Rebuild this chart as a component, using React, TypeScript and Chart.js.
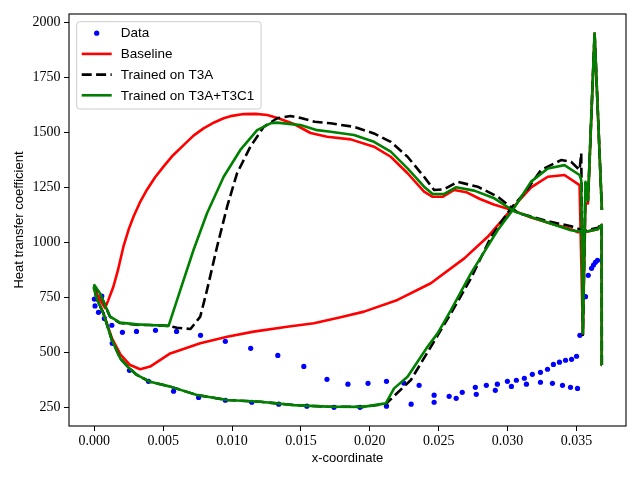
import React, { useEffect, useRef } from 'react';
import { Chart, registerables } from 'chart.js';

Chart.register(...registerables);

// ---- Measured data points ----
const dataX = [
  0.0, 0.00005, 0.00054, 0.0003, 0.00073, 0.00127, 0.0013, 0.00204, 0.00306, 0.00444,
  0.00597, 0.00771, 0.00951, 0.01135, 0.01332, 0.01521, 0.01689, 0.01841, 0.01987, 0.02121,
  0.02247, 0.02358, 0.00255, 0.00393, 0.00575, 0.00757, 0.00951, 0.01143, 0.01339, 0.01543,
  0.0174, 0.01929, 0.02121, 0.023, 0.02467, 0.02467, 0.02576, 0.02627, 0.02671, 0.02773,
  0.02766, 0.02846, 0.02911, 0.02926, 0.02999, 0.03028, 0.03064, 0.03122, 0.03137, 0.0318,
  0.03239, 0.03239, 0.0329, 0.03333, 0.03326, 0.03377, 0.03399, 0.03421, 0.03457, 0.03465,
  0.03501, 0.03508, 0.03525, 0.03566, 0.03586, 0.0361, 0.03624, 0.03638, 0.03653,
];
const dataY = [
  742, 711, 756, 682, 654, 623, 541, 591, 595, 600,
  595, 577, 550, 518, 486, 436, 377, 355, 359, 368,
  360, 350, 418, 368, 323, 295, 282, 273, 264, 255,
  250, 250, 255, 264, 273, 305, 300, 291, 318, 309,
  341, 350, 327, 355, 368, 345, 373, 382, 355, 400,
  409, 364, 423, 445, 359, 455, 350, 464, 341, 468,
  482, 336, 577, 753, 850, 882, 897, 909, 918,
];

// ---- Baseline ----
const baselineX = [
  0.03685, 0.03683, 0.03656, 0.0355, 0.03511, 0.0346, 0.0332, 0.0317, 0.0305, 0.029,
  0.028, 0.027, 0.02613, 0.02528, 0.02456, 0.02394, 0.02274, 0.02152, 0.0203, 0.01861,
  0.0169, 0.0157, 0.0145, 0.0133, 0.01255, 0.0117, 0.01084, 0.01, 0.00939, 0.0087,
  0.00793, 0.0072, 0.00648, 0.0057, 0.00502, 0.0044, 0.00381, 0.0033, 0.00284, 0.0025,
  0.00211, 0.0017, 0.00138, 0.001, 0.00078, 0.0004, 0.0, 0.0002, 0.00066, 0.00127,
  0.0019, 0.0026, 0.00333, 0.00405, 0.00551, 0.00769, 0.00964, 0.01157, 0.014, 0.01594,
  0.01788, 0.01958, 0.02201, 0.02443, 0.02686, 0.02856, 0.03, 0.0307, 0.03171, 0.03292,
  0.03413, 0.03523, 0.03547, 0.03566, 0.03584, 0.03632, 0.03685,
];
const baselineY = [
  442, 1080, 1060, 1045, 1046, 1060, 1084, 1113, 1143, 1172,
  1197, 1228, 1238, 1207, 1207, 1230, 1314, 1389, 1435, 1468,
  1480, 1497, 1538, 1565, 1579, 1584, 1583, 1575, 1564, 1545,
  1518, 1485, 1442, 1395, 1344, 1295, 1238, 1180, 1116, 1060,
  980, 870, 798, 735, 701, 740, 790, 740, 677, 565,
  490, 442, 423, 435, 495, 541, 571, 594, 616, 632,
  659, 685, 738, 814, 927, 1025, 1130, 1180, 1250, 1298,
  1306, 1260, 580, 1180, 1177, 1950, 1147,
];

// ---- Trained on T3A ----
const t3aX = [
  0.03685, 0.03683, 0.03656, 0.03559, 0.03462, 0.03292, 0.03074, 0.02929, 0.02783, 0.02637,
  0.0254, 0.02467, 0.02394, 0.02274, 0.02152, 0.0203, 0.01885, 0.01715, 0.016, 0.015,
  0.01424, 0.01327, 0.0123, 0.01133, 0.01036, 0.00964, 0.00891, 0.00818, 0.00769, 0.00698,
  0.006, 0.0054, 0.00405, 0.00309, 0.00187, 0.00114, 0.00041, 0.0, -0.00003, 0.0002,
  0.00066, 0.00127, 0.0019, 0.0025, 0.00309, 0.00405, 0.00551, 0.00745, 0.00964, 0.01206,
  0.01448, 0.01691, 0.0195, 0.02116, 0.02298, 0.02443, 0.02589, 0.02734, 0.0288, 0.03025,
  0.03122, 0.03244, 0.03389, 0.03462, 0.03523, 0.03535, 0.03547, 0.03566, 0.03584, 0.03632,
  0.03685,
];
const t3aY = [
  442, 1085, 1066, 1052, 1073, 1096, 1134, 1207, 1253, 1275,
  1241, 1238, 1298, 1389, 1457, 1495, 1525, 1541, 1548, 1565,
  1574, 1564, 1525, 1435, 1314, 1162, 980, 783, 662, 606,
  612, 620, 624, 625, 633, 662, 768, 800, 788, 740,
  677, 556, 470, 430, 397, 366, 344, 306, 283, 275,
  260, 253, 252, 265, 374, 525, 677, 836, 1025, 1155,
  1223, 1329, 1374, 1366, 1329, 1405, 580, 1270, 1190, 1950,
  1147,
];

// ---- Trained on T3A+T3C1 ----
const t3ac1X = [
  0.03685, 0.03683, 0.03656, 0.0355, 0.0346, 0.0329, 0.0305, 0.02904, 0.02758, 0.02625,
  0.0254, 0.02456, 0.02394, 0.02274, 0.02152, 0.0203, 0.01885, 0.01715, 0.01618, 0.01497,
  0.01327, 0.01279, 0.01182, 0.0106, 0.00939, 0.00818, 0.0072, 0.00624, 0.00539, 0.00405,
  0.00309, 0.00187, 0.00114, 0.00041, 0.0, -0.00003, 0.0002, 0.00066, 0.00127, 0.0019,
  0.0025, 0.00309, 0.00405, 0.00551, 0.00745, 0.00964, 0.01206, 0.01448, 0.01691, 0.0195,
  0.02116, 0.02176, 0.02274, 0.02419, 0.02492, 0.02589, 0.02734, 0.02929, 0.03038, 0.03171,
  0.03292, 0.03413, 0.03523, 0.03535, 0.03547, 0.03566, 0.03584, 0.03632, 0.03685,
];
const t3ac1Y = [
  442, 1080, 1060, 1046, 1055, 1090, 1140, 1200, 1235, 1250,
  1220, 1220, 1253, 1336, 1412, 1457, 1488, 1503, 1510, 1533,
  1544, 1541, 1510, 1420, 1298, 1132, 965, 783, 620, 624,
  627, 635, 662, 768, 806, 790, 740, 677, 556, 470,
  430, 397, 366, 344, 306, 283, 275, 260, 253, 252,
  268, 336, 389, 525, 586, 692, 859, 1056, 1147, 1276,
  1336, 1351, 1306, 1283, 586, 1275, 1192, 1950, 1147,
];

// ---- Axes ----
const xTickValues = [0, 0.005, 0.01, 0.015, 0.02, 0.025, 0.03, 0.035];
const xTickLabels = ['0.000', '0.005', '0.010', '0.015', '0.020', '0.025', '0.030', '0.035'];
const yTickValues = [250, 500, 750, 1000, 1250, 1500, 1750, 2000];
const yTickLabels = ['250', '500', '750', '1000', '1250', '1500', '1750', '2000'];
const legendLabels = ['Data', 'Baseline', 'Trained on T3A', 'Trained on T3A+T3C1'];
const xAxisTitle = 'x-coordinate';
const yAxisTitle = 'Heat transfer coefficient';

const toPoints = (xs: number[], ys: number[]) => xs.map((x, i) => ({ x, y: ys[i] }));

const SANS = '"Liberation Sans", Arial, sans-serif';
const SERIF = '"Liberation Serif", "Times New Roman", serif';

const framePlugin = {
  id: 'frame',
  afterDraw(chart: any) {
    const { ctx, chartArea } = chart;
    ctx.save();
    ctx.strokeStyle = '#000';
    ctx.lineWidth = 1.1;
    ctx.strokeRect(chartArea.left, chartArea.top, chartArea.right - chartArea.left, chartArea.bottom - chartArea.top);
    ctx.restore();
  },
};

const legendPlugin = {
  id: 'innerLegend',
  afterDraw(chart: any) {
    const { ctx, chartArea } = chart;
    const ds = chart.data.datasets;
    ctx.save();
    ctx.font = `13.5px ${SANS}`;
    let maxW = 0;
    ds.forEach((d: any) => { maxW = Math.max(maxW, ctx.measureText(d.label).width); });
    const bx = chartArea.left + 7.7;
    const by = chartArea.top + 7.7;
    const bw = 44 + maxW + 7;
    const rowH = 20.7;
    const bh = 11.5 + rowH * (ds.length - 1) + 13.7;
    const r = 3;
    ctx.beginPath();
    ctx.moveTo(bx + r, by);
    ctx.lineTo(bx + bw - r, by);
    ctx.arcTo(bx + bw, by, bx + bw, by + r, r);
    ctx.lineTo(bx + bw, by + bh - r);
    ctx.arcTo(bx + bw, by + bh, bx + bw - r, by + bh, r);
    ctx.lineTo(bx + r, by + bh);
    ctx.arcTo(bx, by + bh, bx, by + bh - r, r);
    ctx.lineTo(bx, by + r);
    ctx.arcTo(bx, by, bx + r, by, r);
    ctx.closePath();
    ctx.fillStyle = 'rgba(255,255,255,0.8)';
    ctx.fill();
    ctx.strokeStyle = '#cccccc';
    ctx.lineWidth = 1;
    ctx.stroke();

    ds.forEach((d: any, i: number) => {
      const cy = by + 11.5 + i * rowH;
      const hx0 = bx + 5;
      const hx1 = bx + 35;
      if (d.showLine) {
        ctx.beginPath();
        ctx.setLineDash(d.borderDash || []);
        ctx.lineWidth = d.borderWidth;
        ctx.strokeStyle = d.borderColor;
        ctx.lineCap = 'butt';
        ctx.moveTo(hx0, cy);
        ctx.lineTo(hx1, cy);
        ctx.stroke();
        ctx.setLineDash([]);
      } else {
        ctx.beginPath();
        ctx.fillStyle = d.backgroundColor;
        ctx.arc((hx0 + hx1) / 2, cy, d.pointRadius, 0, Math.PI * 2);
        ctx.fill();
      }
      ctx.fillStyle = '#000';
      ctx.textAlign = 'left';
      ctx.textBaseline = 'middle';
      ctx.fillText(d.label, bx + 44, cy + 0.5);
    });
    ctx.restore();
  },
};

export default function App() {
  const ref = useRef<HTMLCanvasElement | null>(null);

  useEffect(() => {
    if (!ref.current) return;
    const lineCommon = {
      showLine: true,
      pointRadius: 0,
      pointHoverRadius: 0,
      borderWidth: 2.6,
      borderJoinStyle: 'round' as const,
      fill: false,
      tension: 0,
    };
    const chart = new Chart(ref.current, {
      type: 'scatter',
      data: {
        datasets: [
          {
            label: legendLabels[0],
            data: toPoints(dataX, dataY),
            showLine: false,
            pointRadius: 2.6,
            pointBorderWidth: 0,
            backgroundColor: '#0000ff',
            borderColor: '#0000ff',
            order: 3,
          },
          {
            ...lineCommon,
            label: legendLabels[1],
            data: toPoints(baselineX, baselineY),
            borderColor: '#ff0000',
            backgroundColor: '#ff0000',
            order: 2,
          },
          {
            ...lineCommon,
            label: legendLabels[2],
            data: toPoints(t3aX, t3aY),
            borderColor: '#000000',
            backgroundColor: '#000000',
            borderDash: [10, 4.4],
            order: 1,
          },
          {
            ...lineCommon,
            label: legendLabels[3],
            data: toPoints(t3ac1X, t3ac1Y),
            borderColor: '#008000',
            backgroundColor: '#008000',
            order: 0,
          },
        ] as any,
      },
      options: {
        animation: false,
        responsive: false,
        devicePixelRatio: 1,
        layout: { padding: { left: 0, top: 14, right: 14, bottom: 0 } },
        plugins: { legend: { display: false }, tooltip: { enabled: false } },
        events: [],
        scales: {
          x: {
            type: 'linear',
            min: -0.00184,
            max: 0.0386,
            afterBuildTicks: (s: any) => { s.ticks = xTickValues.map((v) => ({ value: v })); },
            afterFit: (s: any) => { s.height = 54; },
            ticks: {
              callback: (_v: any, i: number) => xTickLabels[i],
              font: { family: SERIF, size: 14 },
              color: '#000',
              padding: 2,
              maxRotation: 0,
              autoSkip: false,
            },
            grid: { display: true, drawOnChartArea: false, drawTicks: true, tickLength: 5, color: '#000', lineWidth: 1 },
            border: { display: false },
            title: {
              display: true,
              text: xAxisTitle,
              font: { family: SANS, size: 13 },
              color: '#000',
              padding: { top: 0, bottom: 14 },
            },
          },
          y: {
            type: 'linear',
            min: 165,
            max: 2038,
            afterBuildTicks: (s: any) => { s.ticks = yTickValues.map((v) => ({ value: v })); },
            afterFit: (s: any) => { s.width = 69; },
            ticks: {
              callback: (_v: any, i: number) => yTickLabels[i],
              font: { family: SERIF, size: 14 },
              color: '#000',
              padding: 3.5,
              autoSkip: false,
            },
            grid: { display: true, drawOnChartArea: false, drawTicks: true, tickLength: 5, color: '#000', lineWidth: 1 },
            border: { display: false },
            title: {
              display: true,
              text: yAxisTitle,
              font: { family: SANS, size: 13 },
              color: '#000',
              padding: { top: 12, bottom: 0 },
            },
          },
        },
      } as any,
      plugins: [framePlugin, legendPlugin],
    });
    return () => chart.destroy();
  }, []);

  return (
    <div style={{ position: 'absolute', left: 0, top: 0, width: 640, height: 480, background: '#fff' }}>
      <canvas ref={ref} width={640} height={480} style={{ display: 'block' }} />
    </div>
  );
}
